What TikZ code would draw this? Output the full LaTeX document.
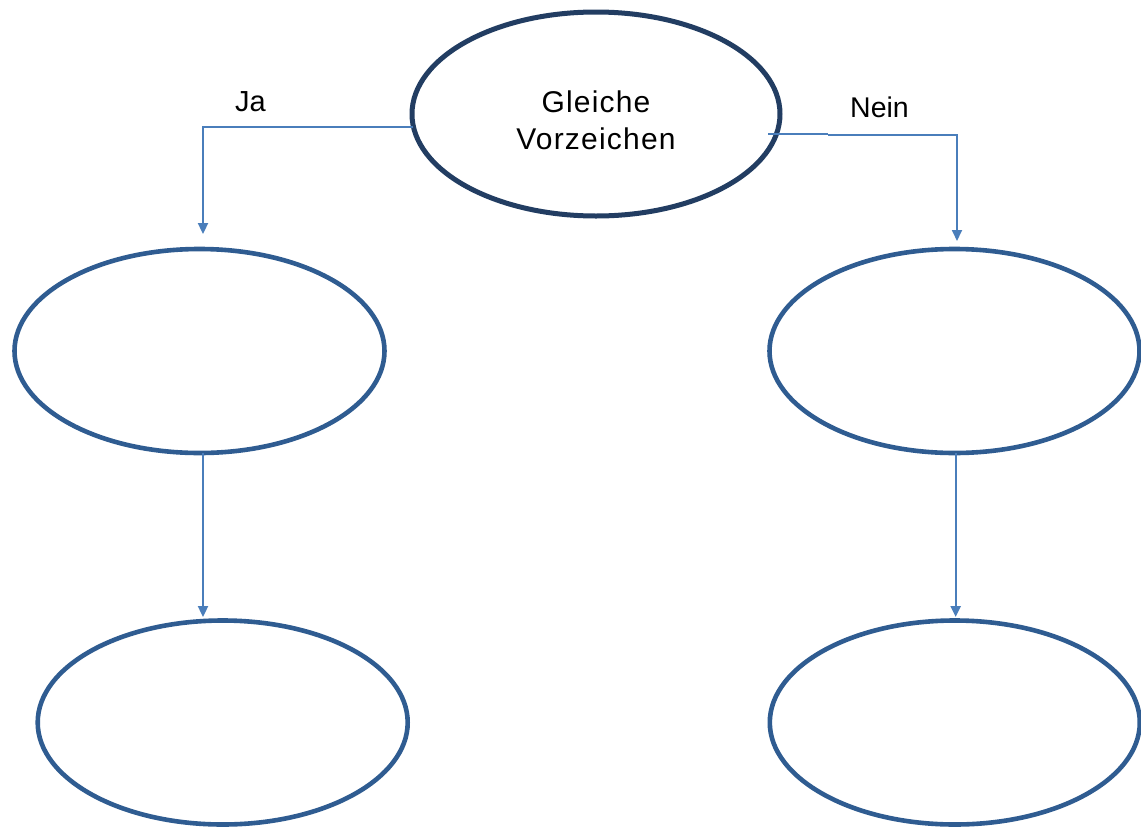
\documentclass[tikz,border=0pt]{standalone}
\usepackage{fontspec}
\setmainfont{Liberation Sans}
\newfontfamily\spacedfont[LetterSpace=4]{Liberation Sans}
\usetikzlibrary{shapes.geometric,arrows.meta}
\definecolor{navyline}{HTML}{223D62}
\definecolor{ovalblue}{HTML}{2F5C91}
\definecolor{connblue}{HTML}{4A7EBB}
\begin{document}
\begin{tikzpicture}[x=1pt,y=-1pt,
  oval/.style={ellipse, draw=ovalblue, line width=4.6pt, minimum width=370pt, minimum height=204pt, inner sep=0pt, outer sep=0pt, fill=white},
  topoval/.style={oval, draw=navyline, line width=5pt, minimum width=368pt},
  connline/.style={draw=connblue, line width=2.3pt},
  arrowline/.style={connline, -{Triangle[length=11pt,width=10pt]}},
  lbl/.style={font=\spacedfont\fontsize{30}{37.3}\selectfont, text=black}
]
\useasboundingbox[fill=white] (0,0) rectangle (1141,828);

% nodes
\node[topoval] (top) at (596,114) {};
\node[oval] (m1) at (199.5,351) {};
\node[oval] (m2) at (954.5,351) {};
\node[oval] (b1) at (222.7,722.5) {};
\node[oval] (b2) at (954.8,722.5) {};

% texts
\node[lbl, align=center] (toptext) at (596,120) {Gleiche\\Vorzeichen};
\node[font=\fontsize{29}{34}\selectfont, anchor=base west, inner sep=0pt] (ja) at (235,111) {Ja};
\node[font=\fontsize{28.5}{34}\selectfont, anchor=base west, inner sep=0pt] (nein) at (850,117) {Nein};

% connectors
\draw[arrowline] (top.184.4) -| ([xshift=3.5pt,yshift=15pt]m1.north);

\coordinate (neinA) at (768,134);
\coordinate (neinB) at (828,134);
\draw[connline, line width=2.8pt] (neinA) -- (neinB);
\draw[arrowline, line width=1.8pt] ([yshift=-1pt]neinB) -| ([xshift=2.5pt,yshift=8pt]m2.north);

\coordinate (m1out) at ([xshift=3.5pt]m1.south);
\coordinate (m2out) at ([xshift=1.2pt]m2.south);
\draw[arrowline] (m1out) -- ([yshift=3.5pt]m1out |- b1.north);
\draw[arrowline] (m2out) -- ([yshift=3.5pt]m2out |- b2.north);
\end{tikzpicture}
\end{document}
